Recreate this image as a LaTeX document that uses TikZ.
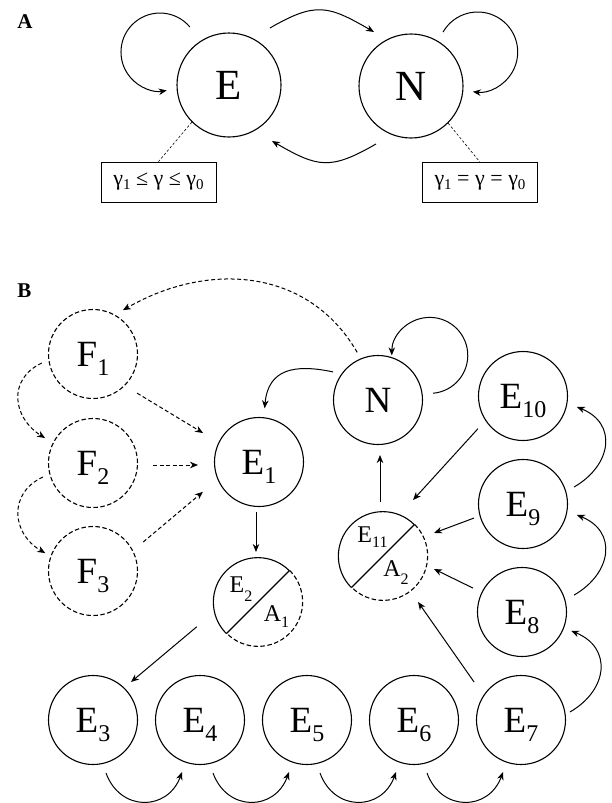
\documentclass[tikz,border=0pt]{standalone}
\usepackage{fontspec}
\setmainfont{Liberation Serif}
\usetikzlibrary{arrows.meta,calc}

% letter with a lowered index, large and small versions
\newcommand\bigsub[2]{#1\raisebox{-9pt}[0pt][0pt]{\fontsize{24}{24}\selectfont #2}}
\newcommand\smallsub[3]{#1\raisebox{#3}[0pt][0pt]{\fontsize{16}{16}\selectfont #2}}
\newcommand\gsub[1]{\raisebox{-4pt}{\fontsize{15}{15}\selectfont #1}}

\begin{document}
\begin{tikzpicture}[x=1pt,y=1pt,
  state/.style={circle,draw,line width=1.1pt,minimum size=89pt,inner sep=0pt,
    font=\fontsize{37}{37}\selectfont},
  bigstate/.style={state,minimum size=104pt,font=\fontsize{43}{43}\selectfont},
  ghost/.style={state,dash pattern=on 4.5pt off 2.5pt},
  split/.style={circle,minimum size=89pt,inner sep=0pt},
  rim/.style={line width=1.1pt},
  arr/.style={-{Stealth[length=8pt,width=6.5pt,inset=2.5pt]},line width=1pt},
  darr/.style={arr,dash pattern=on 4pt off 2.5pt},
  cond/.style={draw,line width=0.8pt,minimum width=115pt,minimum height=40pt,
    inner sep=0pt,font=\fontsize{22}{22}\selectfont},
  lead/.style={dash pattern=on 2.5pt off 2pt,line width=0.6pt},
  tag/.style={font=\fontsize{21}{21}\selectfont\bfseries},
  part/.style={font=\fontsize{24}{24}\selectfont}
]
\fill[white] (0,0) rectangle (611,-803);
\useasboundingbox (0,0) rectangle (611,-803);

% ---------- panel A ----------
\node[tag] (labA) at (25,-21.5) {A};
\node[bigstate] (E) at (229,-85) {E};
\node[bigstate] (N) at (411,-86) {N};
\node[cond] (c1) at (158.5,-182) {γ\gsub{1} ≤ γ ≤ γ\gsub{0}};
\node[cond] (c2) at (480,-182.5) {γ\gsub{1} = γ = γ\gsub{0}};

% self-loops as nearly circular arcs
\draw[arr] ($(E)+(124:70)$) arc[start angle=40,end angle=280,radius=39];
\draw[arr] ($(N)+(59.3:62.8)$) arc[start angle=150,end angle=-97,radius=40];
\draw[arr] ($(E)+(54.3:70.2)$) to[out=30,in=150,looseness=1.3] ($(N)+(124.4:65.5)$);
\draw[arr] ($(N)+(238.9:67.7)$) to[out=210,in=330,looseness=1.3] ($(E)+(-52.5:70.6)$);
\draw[lead] (E.225) -- (c1.north);
\draw[lead] (N.-45) -- (c2.north);

% ---------- panel B ----------
\node[tag] (labB) at (24.5,-290.5) {B};
\node[ghost] (F1) at (93,-354) {\bigsub{F}{1}};
\node[ghost] (F2) at (93,-463) {\bigsub{F}{2}};
\node[ghost] (F3) at (93,-571) {\bigsub{F}{3}};
\node[state] (E1) at (259,-462) {\bigsub{E}{1}};
\node[state] (N2) at (378,-400) {N};
\node[state] (E10) at (523,-396) {\bigsub{E}{10}};
\node[state] (E9) at (523,-504) {\bigsub{E}{9}};
\node[state] (E8) at (522,-612) {\bigsub{E}{8}};
\node[state] (E3) at (93,-720) {\bigsub{E}{3}};
\node[state] (E4) at (200,-720) {\bigsub{E}{4}};
\node[state] (E5) at (307,-720) {\bigsub{E}{5}};
\node[state] (E6) at (414,-720) {\bigsub{E}{6}};
\node[state] (E7) at (521,-720) {\bigsub{E}{7}};

% half-solid, half-dashed circles split by a diagonal
\node[split] (S1) at (258,-602) {};
\draw[rim] (S1.225) arc[start angle=225,end angle=45,radius=44.5];
\draw[rim,dash pattern=on 4.5pt off 2.5pt] (S1.45) arc[start angle=45,end angle=-135,radius=44.5];
\draw[rim] (S1.225) -- (S1.45);
\node[part] (S1a) at ($(S1)+(-17,17)$) {\smallsub{E}{2}{-9pt}};
\node[part] (S1b) at ($(S1)+(18.5,-11.5)$) {\smallsub{A}{1}{-6pt}};

\node[split] (S2) at (383,-556) {};
\draw[rim] (S2.225) arc[start angle=225,end angle=45,radius=44.5];
\draw[rim,dash pattern=on 4.5pt off 2.5pt] (S2.45) arc[start angle=45,end angle=-135,radius=44.5];
\draw[rim] (S2.225) -- (S2.45);
\node[part] (S2a) at ($(S2)+(-10.5,21)$) {\smallsub{E}{11}{-5pt}};
\node[part] (S2b) at ($(S2)+(13,-12.5)$) {\smallsub{A}{2}{-8pt}};

% connectors
\draw[darr] ($(N2)+(113.6:52)$) to[out=120,in=30,looseness=1.05] ($(F1)+(55.7:53)$);
\draw[arr] ($(N2)+(7:55.5)$) arc[start angle=-85,end angle=180,radius=38];
\draw[arr] ($(N2)+(148:53)$) to[out=168,in=85,looseness=1.3] ($(E1)+(84:54)$);
\draw[darr] ($(F1)+(190:52)$) to[out=205,in=148,looseness=1.3] ($(F2)+(152.5:54)$);
\draw[darr] ($(F2)+(195.6:52)$) to[out=205,in=150,looseness=1.3] ($(F3)+(159.4:51)$);
\draw[darr] ($(F1)+(-41.6:59)$) -- ($(E1)+(152.6:63)$);
\draw[darr] ($(F2)+(60,-2)$) -- ($(E1)+(-61,-3)$);
\draw[darr] ($(F3)+(30:58)$) -- ($(E1)+(208:63.5)$);
\draw[arr] ($(E1)+(-3,-50)$) -- ($(S1)+(-2,50)$);
\draw[arr] ($(S1)+(202:66)$) -- ($(E3)+(45:53.7)$);
\draw[arr] ($(E10)+(216:55.8)$) -- ($(S2)+(61.8:63.5)$);
\draw[arr] ($(E9)+(196:51)$) -- ($(S2)+(24.3:56)$);
\draw[arr] ($(E8)+(154:54.6)$) -- ($(S2)+(-14.3:52.6)$);
\draw[arr] ($(E7)+(141:60.4)$) -- ($(S2)+(-52.7:57.8)$);
\draw[arr] ($(S2)+(-3,54)$) -- ($(N2)+(2,-55)$);
\draw[arr] ($(E9)+(18.4:53.8)$) to[out=30,in=-22,looseness=1.4] ($(E10)+(-11.5:55)$);
\draw[arr] ($(E8)+(18:54.7)$) to[out=30,in=-22,looseness=1.4] ($(E9)+(-11.5:55)$);
\draw[arr] ($(E7)+(9.3:49.6)$) to[out=30,in=-22,looseness=1.4] ($(E8)+(-21:52.6)$);
\draw[arr] ($(E3)+(13,-53)$) to[out=-70,in=-110,looseness=1.4] ($(E4)+(-18,-52)$);
\draw[arr] ($(E4)+(13,-53)$) to[out=-70,in=-110,looseness=1.4] ($(E5)+(-18,-52)$);
\draw[arr] ($(E5)+(13,-53)$) to[out=-70,in=-110,looseness=1.4] ($(E6)+(-18,-52)$);
\draw[arr] ($(E6)+(13,-53)$) to[out=-70,in=-110,looseness=1.4] ($(E7)+(-18,-52)$);
\end{tikzpicture}
\end{document}
